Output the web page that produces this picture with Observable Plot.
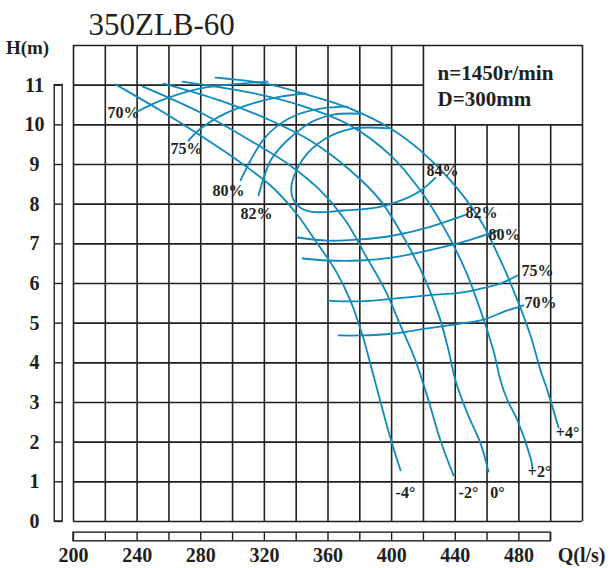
<!DOCTYPE html>
<html><head><meta charset="utf-8">
<script src="https://cdn.jsdelivr.net/npm/d3@7"></script>
<script src="https://cdn.jsdelivr.net/npm/@observablehq/plot@0.6"></script>
<style>body{margin:0;background:#fff}svg{display:block}</style>
</head><body><div id="chart"></div>
<script>
// ---- axes / grid values ----
const gridQ = [200,220,240,260,280,300,320,340,360,380,400,420,440,460,480,500,520];
const gridH = [0,1,2,3,4,5,6,7,8,9,10,11,12];
const xTickLabels = [200,240,280,320,360,400,440,480];
const yTickLabels = [0,1,2,3,4,5,6,7,8,9,10,11];
const barQ = [200,220,240,260,280,300,320,340,360,380,400,420,440,460,480,500];

// ---- head curves (Q l/s, H m) per blade angle ----
const headM4 = [[226.4,11.02],[254.7,10.36],[279.8,9.73],[305.0,9.05],[323.9,8.47],[339.6,7.79],[352.1,7.08],[364.7,6.33],[374.1,5.57],[381.7,4.69],[388.6,3.68],[396.1,2.55],[401.2,1.84],[405.6,1.29]];
const headM2 = [[243.4,10.97],[279.8,10.31],[311.3,9.60],[336.4,8.97],[355.3,8.34],[371.0,7.59],[383.6,6.71],[396.1,5.82],[405.6,4.94],[415.0,4.06],[423.2,3.05],[430.7,2.04],[438.9,1.16]];
const head0 = [[256.6,11.04],[292.4,10.61],[323.9,10.11],[349.0,9.60],[374.1,8.85],[393.0,8.09],[408.7,7.08],[421.3,6.08],[430.7,5.07],[435.8,4.31],[440.2,3.55],[447.7,2.72],[455.9,1.97],[460.9,1.26]];
const headP2 = [[268.5,11.09],[311.3,10.81],[342.7,10.49],[374.1,9.98],[399.3,9.23],[418.2,8.34],[433.9,7.34],[446.4,6.33],[455.9,5.32],[464.0,4.31],[468.5,3.55],[472.9,3.05],[479.1,2.55],[487.3,1.61],[488.6,1.36]];
const headP4 = [[289.3,11.19],[320.7,11.04],[342.7,10.81],[374.1,10.41],[399.3,9.91],[418.2,9.35],[437.0,8.60],[455.9,7.59],[468.5,6.58],[477.9,5.70],[487.3,4.69],[493.6,3.81],[498.0,3.30],[504.9,2.37]];

// ---- iso-efficiency curves ----
const eff70Upper = [[239.0,10.31],[254.7,10.61],[279.8,10.92],[305.0,11.04],[322.0,11.09]];
const eff70Lower = [[366.6,4.69],[380.4,4.69],[401.2,4.74],[422.6,4.87],[443.3,4.99],[455.9,5.07],[472.9,5.32],[482.9,5.45]];
const eff75Upper = [[272.3,9.60],[279.8,9.90],[295.6,10.29],[314.4,10.56],[330.1,10.71],[345.9,10.79]];
const eff75Lower = [[359.7,5.57],[380.4,5.55],[401.2,5.62],[422.6,5.70],[443.3,5.77],[455.9,5.87],[468.5,6.00],[479.1,6.20]];
const eff80Upper = [[305.0,8.60],[311.3,9.10],[318.8,9.60],[328.3,9.98],[340.8,10.26],[355.3,10.41],[372.3,10.46]];
const eff80Lower = [[344.0,6.63],[359.7,6.58],[380.4,6.58],[401.2,6.66],[422.6,6.83],[443.3,7.03],[467.3,7.34]];
const eff82Upper = [[316.3,8.22],[319.5,8.65],[323.9,9.10],[330.1,9.43],[336.4,9.68],[349.0,10.06],[363.5,10.26],[380.4,10.28]];
const eff82Lower = [[340.8,7.16],[359.7,7.08],[380.4,7.11],[401.2,7.21],[422.6,7.41],[446.4,7.73]];
const eff84 = [[398.0,9.91],[376.0,9.91],[359.7,9.68],[347.1,9.28],[338.3,8.67],[337.1,8.27],[340.8,7.97],[349.0,7.81],[369.7,7.84],[391.1,7.92],[405.6,8.09],[418.2,8.34],[427.6,8.67]];

// ---- labels ----
const effLabelText = ["70%","75%","80%","82%","70%","75%","80%","82%","84%"];
const effLabelQ = [231.4,271.0,297.4,315.0,493.6,491.7,471.0,456.5,432.0];
const effLabelH = [10.29,9.40,8.34,7.76,5.52,6.33,7.23,7.79,8.85];
const angleLabelText = ["-4°","-2°","0°","+2°","+4°"];
const angleLabelQ = [408.7,448.3,466.6,493.0,510.6];
const angleLabelH = [0.73,0.73,0.73,1.24,2.24];

const title = "350ZLB-60";
const infoLines = ["n=1450r/min","D=300mm"];

const ink = "#231f20";
const blue = "#0e8bbe";
const serif = "Liberation Serif, Times New Roman, serif";

const curves = [headM4, headM2, head0, headP2, headP4,
  eff70Upper, eff70Lower, eff75Upper, eff75Lower, eff80Upper, eff80Lower,
  eff82Upper, eff82Lower, eff84];

const effLabels = effLabelText.map((t,i)=>({t, q:effLabelQ[i], h:effLabelH[i]}));
const angleLabels = angleLabelText.map((t,i)=>({t, q:angleLabelQ[i], h:angleLabelH[i]}));

const txt = {fill: ink, lineAnchor: "middle"};

const chart = Plot.plot({
  width: 610, height: 568,
  marginLeft: 73, marginRight: 28, marginTop: 45, marginBottom: 47,
  x: {domain: [200, 520], axis: null},
  y: {domain: [0, 12], axis: null},
  style: {fontFamily: serif, background: "#fff", overflow: "visible"},
  marks: [
    // grid
    Plot.ruleX(gridQ, {x: d => d, y1: 0, y2: d => (d > 420 && d < 520) ? 10 : 12, stroke: ink, strokeWidth: 1.6}),
    Plot.ruleY(gridH, {y: d => d, x1: 200, x2: d => d === 11 ? 420 : 520, stroke: ink, strokeWidth: 1.6}),
    // left scale bar
    Plot.rect([0], {x1: 188.2, x2: 193.2, y1: 0, y2: 11, fill: "none", stroke: ink, strokeWidth: 1.4}),
    Plot.ruleY(yTickLabels, {y: d => d, x1: 188.2, x2: 193.2, stroke: ink, strokeWidth: 1.4}),
    // bottom scale bar
    Plot.rect([0], {x1: 200, x2: 500, y1: -0.28, y2: -0.5, fill: "none", stroke: ink, strokeWidth: 1.4}),
    Plot.ruleX(barQ, {x: d => d, y1: -0.28, y2: -0.5, stroke: ink, strokeWidth: 1.4}),
    // curves
    ...curves.map(c => Plot.line(c, {x: d => d[0], y: d => d[1], stroke: blue, strokeWidth: 1.8, curve: "catmull-rom"})),
    // labels on curves
    Plot.text(effLabels, {x: "q", y: "h", text: "t", fontSize: 16, fontWeight: "bold", ...txt}),
    Plot.text(angleLabels, {x: "q", y: "h", text: "t", fontSize: 16, fontWeight: "bold", ...txt}),
    // tick labels
    Plot.text(yTickLabels, {y: d => d, text: d => String(d), frameAnchor: "left", dx: -39, textAnchor: "middle", fontSize: 20, fontWeight: "bold", ...txt}),
    Plot.text(xTickLabels, {x: d => d, text: d => String(d), frameAnchor: "bottom", dy: 34, fontSize: 20, fontWeight: "bold", ...txt}),
    Plot.text(["Q(l/s)"], {frameAnchor: "bottom-right", dx: 23, dy: 34, textAnchor: "end", fontSize: 20, fontWeight: "bold", ...txt}),
    Plot.text(["H(m)"], {frameAnchor: "top-left", dx: -46, dy: 2, textAnchor: "middle", fontSize: 19, fontWeight: "bold", ...txt}),
    Plot.text([title], {frameAnchor: "top-left", dx: 15, dy: -20, textAnchor: "start", fontSize: 31, ...txt}),
    Plot.text([infoLines[0]], {frameAnchor: "top-right", dx: -145, dy: 28, textAnchor: "start", fontSize: 21, fontWeight: "bold", ...txt}),
    Plot.text([infoLines[1]], {frameAnchor: "top-right", dx: -145, dy: 54, textAnchor: "start", fontSize: 21, fontWeight: "bold", ...txt})
  ]
});
document.getElementById("chart").append(chart);
</script></body></html>
